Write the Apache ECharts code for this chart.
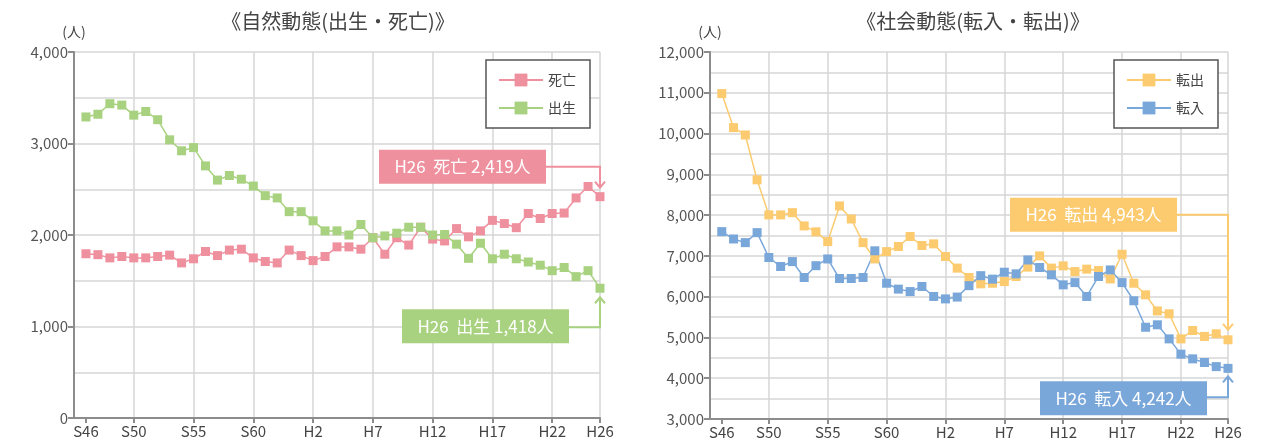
<!DOCTYPE html>
<html>
<head>
<meta charset="utf-8">
<title>自然動態・社会動態</title>
<script src="https://cdn.jsdelivr.net/npm/echarts@6/dist/echarts.min.js"></script>
<style>
  html, body { margin: 0; background: #fff; }
  #main { width: 1265px; height: 445px; }
</style>
</head>
<body>
<div id="main"></div>
<script>
// 年度（S46〜H26）
var years = ['S46','S47','S48','S49','S50','S51','S52','S53','S54','S55',
             'S56','S57','S58','S59','S60','S61','S62','S63',
             'H1','H2','H3','H4','H5','H6','H7','H8','H9','H10',
             'H11','H12','H13','H14','H15','H16','H17','H18','H19','H20',
             'H21','H22','H23','H24','H25','H26'];
var labelYears = ['S46','S50','S55','S60','H2','H7','H12','H17','H22','H26'];

// 自然動態
var deaths = [1795,1785,1750,1765,1750,1750,1765,1780,1695,1740,
              1820,1775,1835,1845,1750,1710,1695,1835,
              1775,1720,1765,1870,1870,1845,1970,1790,1970,1890,
              2085,1955,1935,2070,1980,2045,2160,2125,2080,2235,
              2180,2235,2240,2405,2530,2419];
var births = [3290,3320,3435,3420,3310,3350,3260,3040,2920,2955,
              2755,2600,2650,2610,2535,2430,2405,2255,
              2255,2155,2045,2045,2000,2115,1970,1990,2020,2085,
              2085,2000,2005,1900,1745,1910,1740,1790,1740,1705,
              1670,1610,1645,1545,1610,1418];

// 社会動態
var moveOut = [10980,10145,9965,8865,8005,8005,8060,7735,7590,7350,
               8225,7905,7325,6925,7105,7230,7475,7255,
               7295,6985,6700,6470,6315,6330,6370,6495,6725,7000,
               6700,6755,6615,6675,6640,6435,7040,6330,6045,5650,
               5580,4965,5170,5025,5090,4943];
var moveIn = [7595,7415,7325,7570,6960,6740,6860,6470,6760,6925,
              6445,6445,6470,7125,6330,6185,6125,6250,
              6005,5945,5990,6270,6515,6430,6600,6560,6900,6715,
              6535,6290,6345,6005,6495,6655,6345,5900,5250,5310,
              4965,4590,4475,4385,4285,4242];

var PINK = '#ef909e', GREEN = '#a8d27f', YELLOW = '#fcca6f', BLUE = '#7aa7da';
var FONT = '"Noto Sans CJK JP", "Noto Sans", sans-serif';
var AXIS_COLOR = '#8c8c8c', GRID_COLOR = '#d6d6d6';

var chart = echarts.init(document.getElementById('main'));

function hasLabel(idx, value) { return labelYears.indexOf(value) >= 0; }
function hasGrid(idx, value) { return value !== 'S46' && labelYears.indexOf(value) >= 0; }

function xAxis(gridIndex) {
    return {
        type: 'category', gridIndex: gridIndex, boundaryGap: false,
        data: [''].concat(years),
        axisLine: { lineStyle: { color: AXIS_COLOR, width: 2 } },
        axisTick: { interval: hasLabel, length: 5, lineStyle: { color: AXIS_COLOR, width: 2 } },
        axisLabel: { interval: hasLabel, color: '#444', fontSize: 15, margin: 6 },
        splitLine: { show: true, interval: hasGrid, lineStyle: { color: GRID_COLOR, width: 1.5 } }
    };
}

function yAxis(gridIndex, min, max) {
    return {
        type: 'value', gridIndex: gridIndex, min: min, max: max, interval: 1000,
        name: '(人)', nameLocation: 'end', nameGap: 13,
        nameTextStyle: { color: '#444', fontSize: 14 },
        axisLine: { show: true, lineStyle: { color: AXIS_COLOR, width: 2 } },
        axisTick: { show: true, length: 6, lineStyle: { color: AXIS_COLOR, width: 2 } },
        axisLabel: { color: '#555', fontSize: 15, margin: 6,
                     formatter: function (v) { return v.toLocaleString('en-US'); } },
        splitLine: { lineStyle: { color: GRID_COLOR, width: 1.5 } },
        minorTick: { show: false, splitNumber: 2 },
        minorSplitLine: { show: true, lineStyle: { color: GRID_COLOR, width: 1.5 } }
    };
}

function lineSeries(name, data, color, idx) {
    return {
        name: name, type: 'line', xAxisIndex: idx, yAxisIndex: idx,
        data: ['-'].concat(data),
        symbol: 'rect', symbolSize: 9, showAllSymbol: true,
        itemStyle: { color: color },
        lineStyle: { color: color, width: 1.5 }
    };
}

function legend(names, left) {
    return {
        data: names, orient: 'vertical', left: left, top: 60,
        padding: [13, 14, 13, 12], itemGap: 14, itemWidth: 44, itemHeight: 16,
        borderColor: '#555', borderWidth: 1.5, backgroundColor: '#fff',
        textStyle: { fontSize: 14, color: '#444', fontFamily: FONT }
    };
}

chart.setOption({
    animation: false,
    textStyle: { fontFamily: FONT },
    grid: [
        { left: 74, right: 665, top: 52, bottom: 27 },
        { left: 710, right: 37, top: 52, bottom: 26 }
    ],
    xAxis: [xAxis(0), xAxis(1)],
    yAxis: [yAxis(0, 0, 4000), yAxis(1, 3000, 12000)],
    legend: [legend(['死亡', '出生'], 486), legend(['転出', '転入'], 1114)],
    series: [
        lineSeries('死亡', deaths, PINK, 0),
        lineSeries('出生', births, GREEN, 0),
        lineSeries('転出', moveOut, YELLOW, 1),
        lineSeries('転入', moveIn, BLUE, 1)
    ]
});

// 最終年の吹き出し
var last = years.length - 1;
var callouts = [
    { idx: 0, label: '死亡', value: deaths[last], color: PINK, boxRight: -54, boxTop: -47, lineY: -30, tipY: -9 },
    { idx: 0, label: '出生', value: births[last], color: GREEN, boxRight: -31, boxTop: 21, lineY: 39, tipY: 9 },
    { idx: 1, label: '転出', value: moveOut[last], color: YELLOW, boxRight: -51, boxTop: -142, lineY: -125, tipY: -10 },
    { idx: 1, label: '転入', value: moveIn[last], color: BLUE, boxRight: -21, boxTop: 13, lineY: 29, tipY: 8 }
];

var graphics = [
    { type: 'text', style: { text: '《自然動態(出生・死亡)》', x: 338, y: 21, textAlign: 'center', textVerticalAlign: 'middle',
      fill: '#444', font: '20px ' + FONT } },
    { type: 'text', style: { text: '《社会動態(転入・転出)》', x: 973, y: 21, textAlign: 'center', textVerticalAlign: 'middle',
      fill: '#444', font: '20px ' + FONT } }
];

callouts.forEach(function (c) {
    var p = chart.convertToPixel({ xAxisIndex: c.idx, yAxisIndex: c.idx }, [years.length, c.value]);
    var w = 167, h = 34;
    var bx = p[0] + c.boxRight - w, by = p[1] + c.boxTop;
    var ly = p[1] + c.lineY, ty = p[1] + c.tipY;
    var dir = c.tipY < 0 ? -1 : 1;
    graphics.push({ type: 'rect', shape: { x: bx, y: by, width: w, height: h }, style: { fill: c.color }, z: 10 });
    graphics.push({ type: 'text', z: 11, style: {
        text: years[last] + '  ' + c.label + ' ' + c.value.toLocaleString('en-US') + '人',
        x: bx + w / 2, y: by + h / 2, textAlign: 'center', textVerticalAlign: 'middle',
        fill: '#fff', font: '17px ' + FONT } });
    graphics.push({ type: 'polyline', z: 10, shape: { points: [[bx + w, ly], [p[0], ly], [p[0], ty]] },
        style: { stroke: c.color, lineWidth: 2, fill: null } });
    graphics.push({ type: 'polyline', z: 10, shape: { points: [[p[0] - 5, ty + 6 * dir], [p[0], ty], [p[0] + 5, ty + 6 * dir]] },
        style: { stroke: c.color, lineWidth: 2, fill: null } });
});

chart.setOption({ graphic: graphics });
</script>
</body>
</html>
